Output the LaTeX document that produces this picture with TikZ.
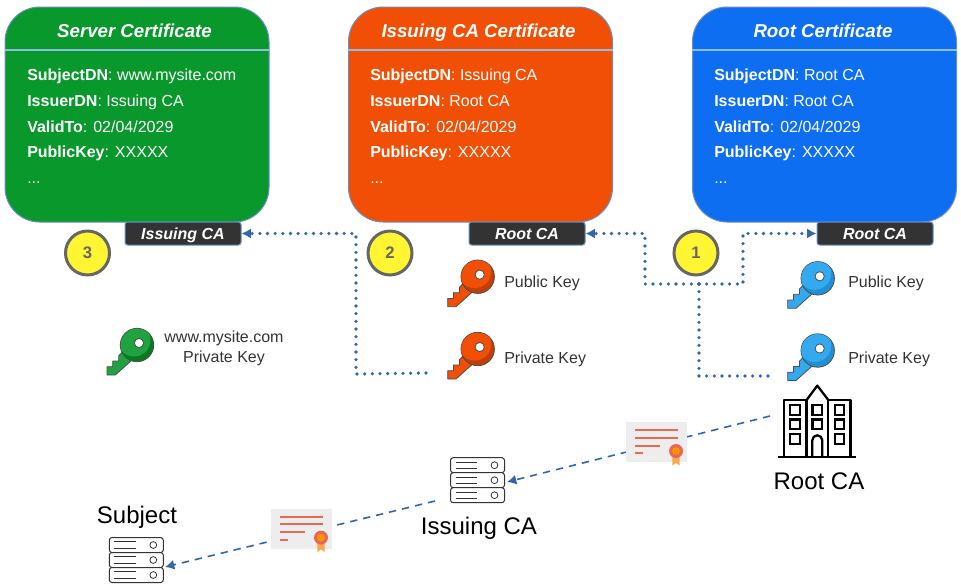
\documentclass[tikz,border=0pt]{standalone}
\usepackage{fontspec}
\setmainfont{Liberation Sans}
\usetikzlibrary{positioning,calc,arrows.meta}

\definecolor{servergreen}{HTML}{08982C}
\definecolor{issuingorange}{HTML}{F04F05}
\definecolor{rootblue}{HTML}{0D6EF1}
\definecolor{edgeblue}{HTML}{6C8EBF}
\definecolor{linkblue}{HTML}{2F66AC}
\definecolor{headblue}{HTML}{8FBCE0}
\definecolor{sealred}{HTML}{E56A55}
\definecolor{keyblue}{HTML}{35A9F0}
\definecolor{keybluedark}{HTML}{1F8FD6}

\tikzset{
  pics/keyicon/.style 2 args={code={
      \draw[fill=#1, draw=black!70, line width=0.6pt, line join=round]
        (-15,7.3) -- (-18.3,10.7) -- (-18.3,16) -- (-24.3,16) -- (-24.3,21.7) -- (-30,21.7)
        -- (-30,30) -- (-21.7,30) -- (-5,15) -- cycle;
      \draw[fill=#2, draw=black!70, line width=0.6pt] (0,0) circle (16.7);
      \begin{scope}
        \clip (0,0) circle (16.4);
        \fill[#1] (-3,-5) circle (16.5);
      \end{scope}
      \draw[fill=white, draw=black!70, line width=0.6pt] (2,-2) circle (4.6);
  }},
  pics/certicon/.style={code={
      \fill[black!7] (-30.3,-20.2) rectangle (30.3,20.2);
      \draw[sealred, line width=1.6pt] (-21.3,-12.2) -- (22,-12.2);
      \draw[sealred, line width=1.6pt] (-21.3,-4.5) -- (22,-4.5);
      \draw[sealred, line width=1.6pt] (-21.3,3.5) -- (3.7,3.5);
      \draw[sealred, line width=1.6pt] (-21.3,10.8) -- (-13.6,10.8);
      \fill[orange!70] (16,9) -- (16,23.5) -- (19.7,20.5) -- (23.4,23.5) -- (23.4,9) -- cycle;
      \fill[sealred] (19.7,8.8) circle (7);
      \fill[orange!85!yellow] (19.7,8.8) circle (3.9);
  }},
  pics/servericon/.style={code={
      \draw[rounded corners=2pt, fill=white, draw=black!80, line width=0.75pt] (-27,-22.5) rectangle (27,-7.5);
      \draw[rounded corners=2pt, fill=white, draw=black!80, line width=0.75pt] (-27,-7.5) rectangle (27,7.5);
      \draw[rounded corners=2pt, fill=white, draw=black!80, line width=0.75pt] (-27,7.5) rectangle (27,22.5);
      \foreach \rowy in {-15,0,15} {
        \draw[black!80, line width=0.6pt] (-22,\rowy-3.3) -- (-0.5,\rowy-3.3);
        \draw[black!80, line width=0.6pt] (-22,\rowy+3.3) -- (-0.5,\rowy+3.3);
        \draw[black!80, line width=0.6pt] (17,\rowy) circle (3.4);
      }
  }},
  pics/buildingicon/.style={code={
      \draw[line width=1.7pt, line join=round] (-39,0) -- (39,0);
      \draw[line width=1.7pt, line join=round] (-33.3,0) -- (-33.3,-57.3) -- (-10.7,-57.3) -- (-10.7,0);
      \draw[line width=1.7pt, line join=round] (11,0) -- (11,-57.3) -- (33.3,-57.3) -- (33.3,0);
      \draw[line width=1.7pt, line join=round] (-10.7,-57.3) -- (0,-71.7) -- (11,-57.3);
      \foreach \winx/\winy in {-22.3/-47.3,0/-47.3,22.3/-47.3,-22.3/-33,0/-33,22.3/-33,-22.3/-18.3,22.3/-18.3} {
        \draw[line width=1.7pt] (\winx-4.7,\winy-4.7) rectangle (\winx+4.7,\winy+4.7);
      }
      \draw[line width=1.7pt] (-5,0) -- (-5,-17) arc[start angle=180, end angle=360, radius=5] -- (5,0);
  }},
}

\begin{document}
\begin{tikzpicture}[
    x=0.75pt, y=-0.75pt,
    >={Latex[length=7pt,width=7.5pt]},
    certcard/.style={draw=edgeblue, line width=0.75pt, rounded corners=26pt, minimum width=198pt, minimum height=161.25pt, inner sep=0pt},
    certtitle/.style={text=white, anchor=base, font=\fontsize{14}{16}\selectfont\bfseries\itshape, inner sep=0pt},
    certbody/.style={text=white, align=left, inner sep=0pt, anchor=north west, font=\fontsize{12}{19.25}\selectfont},
    signertag/.style={draw=edgeblue, line width=0.75pt, fill=black!80, text=white, rounded corners=2pt, minimum width=87pt, minimum height=17.25pt, inner sep=0pt, text height=9.6pt, text depth=1pt, font=\fontsize{12}{14}\selectfont\bfseries\itshape},
    stepbadge/.style={circle, draw=black!60, line width=2.25pt, fill=yellow!80!white, text=black!60, minimum size=33pt, inner sep=0pt, font=\fontsize{12.5}{14}\selectfont\bfseries},
    keylabel/.style={text=black!80, align=center, inner sep=0pt, font=\fontsize{12}{14.6}\selectfont},
    keytext/.style={keylabel, anchor=base west},
    partylabel/.style={inner sep=0pt, anchor=base, font=\fontsize{18}{21}\selectfont},
    iconbox/.style={inner sep=0pt, outer sep=0pt},
    signlink/.style={linkblue, line width=2.7pt, line cap=round, dash pattern=on 0pt off 5.75pt},
    issuelink/.style={linkblue, line width=1.2pt, dash pattern=on 5.5pt off 4.5pt},
    headline/.style={headblue, line width=1.1pt}
  ]
  \useasboundingbox (0,0) rectangle (961,587);

  % Certificates
  \node[certcard, fill=servergreen] (servercard) at (137,114.5) {};
  \node[certcard, fill=issuingorange] (issuingcard) at (480.5,114.5) {};
  \node[certcard, fill=rootblue] (rootcard) at (824.5,114.5) {};

  \draw[headline] (servercard.west |- 0,50) -- (servercard.east |- 0,50);
  \draw[headline] (issuingcard.west |- 0,50) -- (issuingcard.east |- 0,50);
  \draw[headline] (rootcard.west |- 0,50) -- (rootcard.east |- 0,50);

  \node[certtitle] (servertitle) at (134.5,37) {Server Certificate};
  \node[certtitle] (issuingtitle) at (478.5,37) {Issuing CA Certificate};
  \node[certtitle] (roottitle) at (823,37) {Root Certificate};

  \node[certbody] (serverbody) at (27,69) {\textbf{SubjectDN}: www.mysite.com\\\textbf{IssuerDN}: Issuing CA\\\textbf{ValidTo}: 02/04/2029\\\textbf{PublicKey}: XXXXX\\...};
  \node[certbody] (issuingbody) at (370,69) {\textbf{SubjectDN}: Issuing CA\\\textbf{IssuerDN}: Root CA\\\textbf{ValidTo}: 02/04/2029\\\textbf{PublicKey}: XXXXX\\...};
  \node[certbody] (rootbody) at (714,69) {\textbf{SubjectDN}: Root CA\\\textbf{IssuerDN}: Root CA\\\textbf{ValidTo}: 02/04/2029\\\textbf{PublicKey}: XXXXX\\...};

  % Signer tags
  \node[signertag] (servertag) at (183,233.5) {Issuing CA};
  \node[signertag] (issuingtag) at (527,233.5) {Root CA};
  \node[signertag] (roottag) at (875,233.5) {Root CA};

  % Steps
  \node[stepbadge] (stepthree) at (87.5,253) {3};
  \node[stepbadge] (steptwo) at (390,253) {2};
  \node[stepbadge] (stepone) at (696,253) {1};

  % Keys
  \pic at (137,345) {keyicon={servergreen!90!white}{servergreen!80!black}};
  \pic at (477.7,276.7) {keyicon={issuingorange}{issuingorange!80!black}};
  \pic at (477.7,349) {keyicon={issuingorange}{issuingorange!80!black}};
  \pic at (817.7,278.3) {keyicon={keyblue}{keybluedark}};
  \pic at (817.7,350.5) {keyicon={keyblue}{keybluedark}};

  \node[keylabel] (serverprivate) at (224,348.5) {www.mysite.com\\Private Key};
  \node[keytext] (issuingpublic) at (504,287) {Public Key};
  \node[keytext] (issuingprivate) at (504,363) {Private Key};
  \node[keytext] (rootpublic) at (848,287) {Public Key};
  \node[keytext] (rootprivate) at (848,363) {Private Key};

  % Parties
  \node[iconbox, minimum width=58pt, minimum height=54pt] (rootbuilding) at (817.5,421) {};
  \pic at (817.3,457.3) {buildingicon};
  \node[iconbox, minimum width=40.5pt, minimum height=33.75pt] (issuingserver) at (477.5,480.2) {};
  \pic at (477.5,480.2) {servericon};
  \node[iconbox, minimum width=40.5pt, minimum height=33.75pt] (subjectserver) at (136.3,560) {};
  \pic at (136.3,560) {servericon};

  \node[partylabel] (rootname) at (819,489) {Root CA};
  \node[partylabel] (issuingname) at (479,534) {Issuing CA};
  \node[partylabel] (subjectname) at (137,523) {Subject};

  % Arrows
  \coordinate (rootkeyout) at (768,376);
  \coordinate (rootjoin) at (699,284);
  \coordinate (issuingkeyout) at (426,373);
  \coordinate (rootissue) at (770,416);
  \coordinate (issuingissue) at (435,501);
  \coordinate (issuingin) at (507,482);
  \coordinate (subjectin) at (165,567);

  \draw[signlink] (rootkeyout) -| (rootjoin);
  \draw[signlink, ->] (rootjoin) -- (645,284) |- (issuingtag.east);
  \draw[signlink, ->] (rootjoin) -- (743,284) |- (roottag.west);
  \draw[signlink, ->] (issuingkeyout) -- (356,374) |- (servertag.east);

  \draw[issuelink, ->] (rootissue) -- (issuingin);
  \draw[issuelink, ->] (issuingissue) -- (subjectin);

  \pic at (656.3,442.2) {certicon};
  \pic at (301.3,528.8) {certicon};

\end{tikzpicture}
\end{document}
